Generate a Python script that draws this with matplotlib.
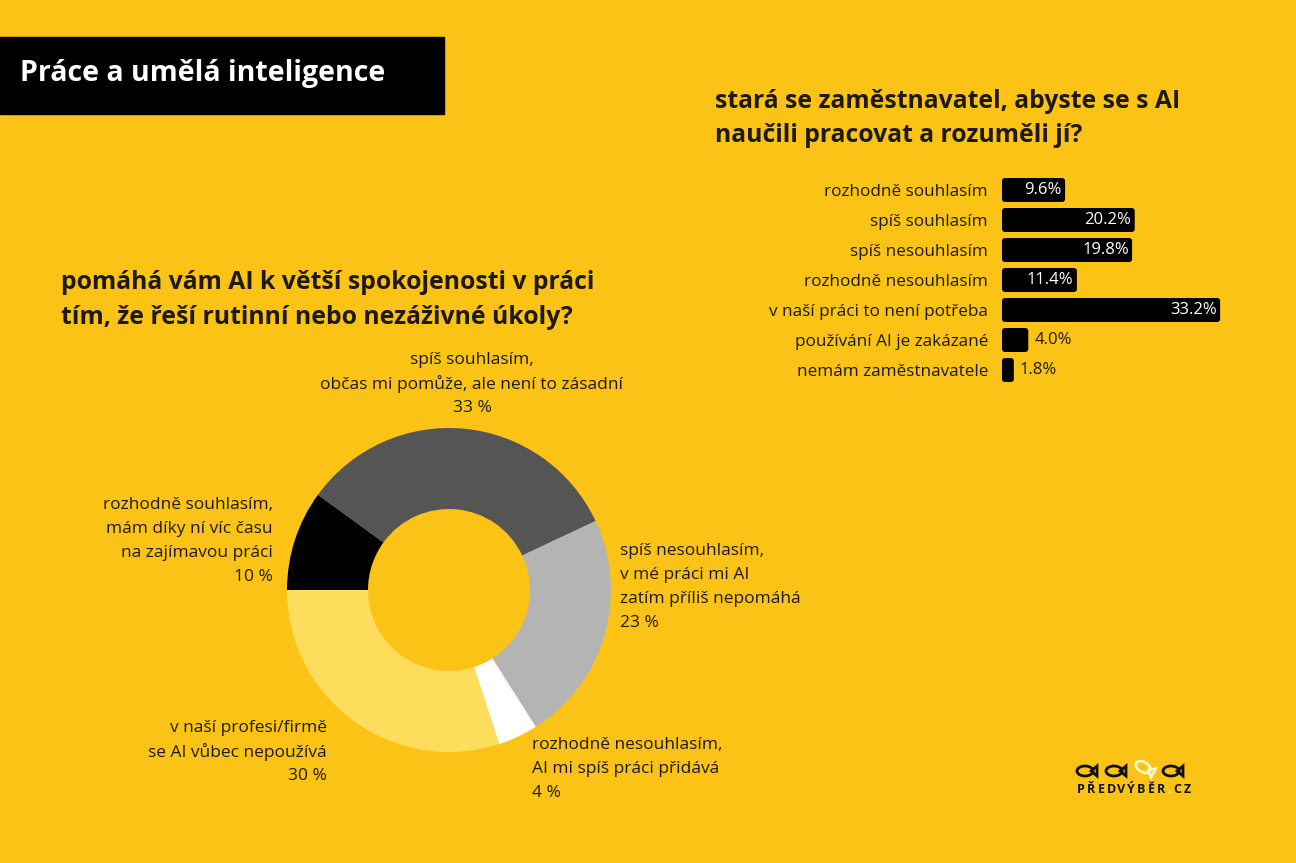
import matplotlib
matplotlib.use('Agg')
import matplotlib.pyplot as plt
from matplotlib.patches import FancyBboxPatch, Rectangle, Ellipse, Polygon
from matplotlib import transforms

# Data
donut_labels = [
    ['rozhodně souhlasím,', 'mám díky ní víc času', 'na zajímavou práci', '10 %'],
    ['spíš souhlasím,', 'občas mi pomůže, ale není to zásadní', '33 %'],
    ['spíš nesouhlasím,', 'v mé práci mi AI', 'zatím příliš nepomáhá', '23 %'],
    ['rozhodně nesouhlasím,', 'AI mi spíš práci přidává', '4 %'],
    ['v naší profesi/firmě', 'se AI vůbec nepoužívá', '30 %'],
]
donut_values = [10, 33, 23, 4, 30]
donut_colors = ['#000000', '#555555', '#b4b4b4', '#ffffff', '#fedd5c']

bar_labels = ['rozhodně souhlasím', 'spíš souhlasím', 'spíš nesouhlasím',
              'rozhodně nesouhlasím', 'v naší práci to není potřeba',
              'používání AI je zakázané', 'nemám zaměstnavatele']
bar_values = [9.6, 20.2, 19.8, 11.4, 33.2, 4.0, 1.8]

title = 'Práce a umělá inteligence'
q_bar = ['stará se zaměstnavatel, abyste se s AI', 'naučili pracovat a rozuměli jí?']
q_donut = ['pomáhá vám AI k větší spokojenosti v práci', 'tím, že řeší rutinní nebo nezáživné úkoly?']

BG = '#fac315'
DARK = '#1e1a12'
W, H = 1296, 863
plt.rcParams['font.family'] = ['Open Sans', 'DejaVu Sans']

fig = plt.figure(figsize=(W / 100, H / 100), dpi=100, facecolor=BG)

# full-figure axes in pixel coordinates for text and decorations
bg = fig.add_axes([0, 0, 1, 1])
bg.set_xlim(0, W)
bg.set_ylim(H, 0)
bg.axis('off')

bg.add_patch(Rectangle((0, 37), 444, 77, color='black'))
bg.text(20, 74, title, color='white', fontsize=20.5, fontweight='bold', va='center')

for i, line in enumerate(q_bar):
    bg.text(715, 101 + 35 * i, line, color=DARK, fontsize=17.8, fontweight='bold', va='center')
for i, line in enumerate(q_donut):
    bg.text(61, 282 + 35 * i, line, color=DARK, fontsize=17.8, fontweight='bold', va='center')

# donut label positions (x, first line y, alignment)
label_pos = [(273, 505, 'right'), (472, 360, 'center'), (620, 551, 'left'),
             (532, 745, 'left'), (327, 728, 'right')]
for lines, (x, y, ha) in zip(donut_labels, label_pos):
    for i, line in enumerate(lines):
        bg.text(x, y + 24 * i, line, color=DARK, fontsize=12.5, ha=ha, va='center')

# logo
fish_x = [1085, 1114, 1143, 1171]
for k, fx in enumerate(fish_x):
    col = '#fff3c8' if k == 2 else '#111111'
    fy = 767 if k == 2 else 771
    rot = 30 if k == 2 else 0
    tr = transforms.Affine2D().rotate_deg_around(fx, fy, rot) + bg.transData
    bg.add_patch(Ellipse((fx, fy), 16, 10, fill=False, ec=col, lw=2, transform=tr))
    bg.add_patch(Polygon([(fx + 6, fy), (fx + 12, fy - 5), (fx + 12, fy + 5)], closed=True,
                         fill=False, ec=col, lw=2, transform=tr))
logo = 'PŘEDVÝBĚR.CZ'
lx = 1076
for ch in logo:
    adv = 6 if ch == '.' else 10
    bg.text(lx + adv / 2, 789, ch, color='#fff3c8' if ch == '.' else '#111111',
            fontsize=9, fontweight='bold', ha='center', va='center')
    lx += adv

# donut
cx, cy, r = 449, 590, 162
ax_d = fig.add_axes([(cx - r) / W, (H - cy - r) / H, 2 * r / W, 2 * r / H])
ax_d.pie(donut_values, colors=donut_colors, startangle=180, counterclock=False,
         wedgeprops=dict(width=0.5, linewidth=0))
ax_d.set_xlim(-1, 1)
ax_d.set_ylim(-1, 1)
ax_d.set_aspect('equal')
ax_d.axis('off')

# horizontal bars
x0, px_per = 1002, 6.57
top, bottom = 175, 385
ax_b = fig.add_axes([x0 / W, (H - bottom) / H, 40 * px_per / W, (bottom - top) / H])
ax_b.set_facecolor('none')
ypos = list(range(len(bar_values)))
bars = ax_b.barh(ypos, bar_values, height=0.8, color='none')
ax_b.set_xlim(0, 40)
ax_b.set_ylim(len(bar_values) - 0.5, -0.5)
for b, v in zip(bars, bar_values):
    ax_b.add_patch(FancyBboxPatch((b.get_x(), b.get_y()), b.get_width(), b.get_height(),
                                  boxstyle='round,pad=0,rounding_size=0.45',
                                  mutation_aspect=0.22, color='black', lw=0))
    yc = b.get_y() + b.get_height() / 2
    if v > 5:
        ax_b.text(v - 0.5, yc, f'{v:.1f}%', color='white', fontsize=12, ha='right', va='center')
    else:
        ax_b.text(v + 0.9, yc, f'{v:.1f}%', color=DARK, fontsize=12, ha='left', va='center')
ax_b.set_yticks(ypos, bar_labels, fontsize=12.3, color=DARK)
ax_b.tick_params(axis='y', length=0, pad=10)
ax_b.set_xticks([])
for s in ax_b.spines.values():
    s.set_visible(False)

fig.savefig('out.png', dpi=100, facecolor=BG)
